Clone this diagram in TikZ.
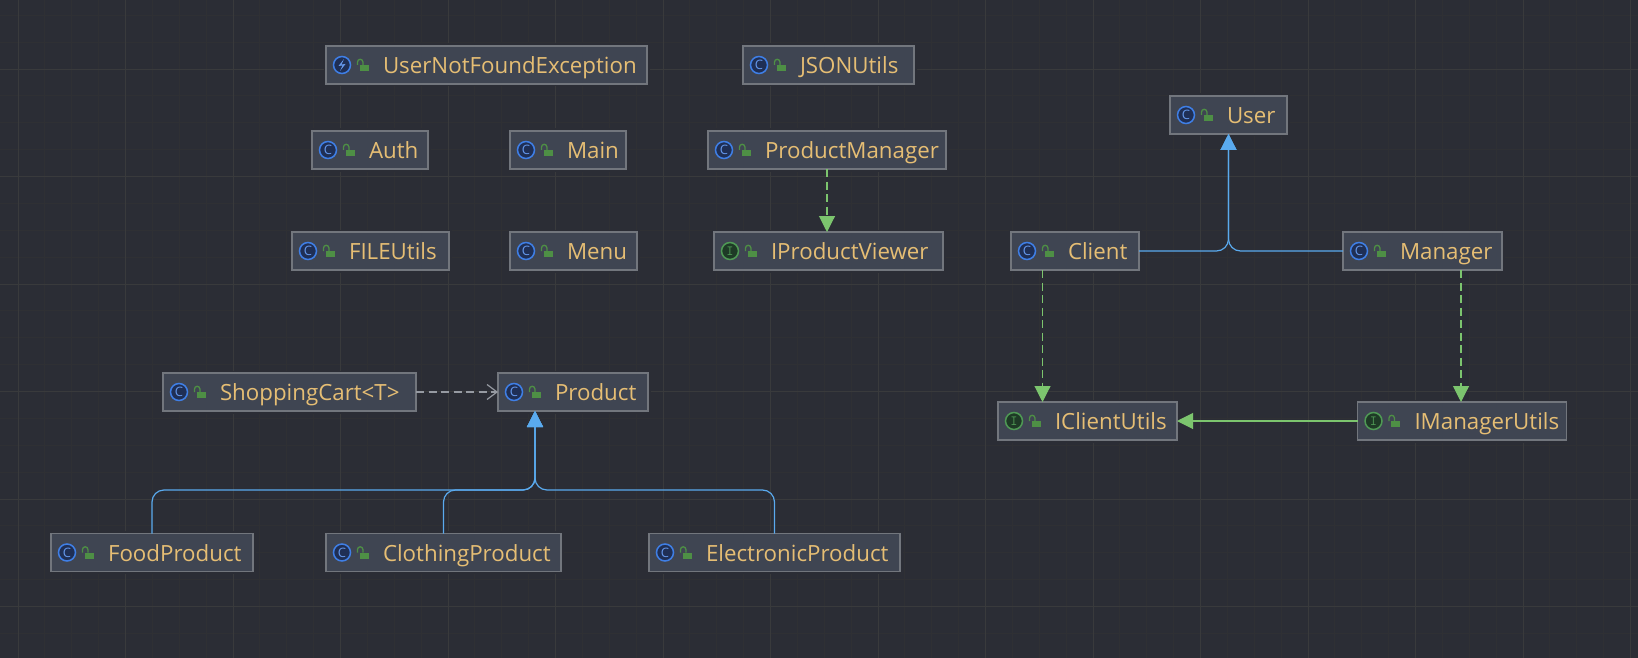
\documentclass[tikz,border=0pt]{standalone}
\usepackage{fontspec}
\setmainfont{Open Sans}
\usetikzlibrary{arrows.meta}

\definecolor{canvasbg}{HTML}{2B2D35}
\definecolor{gridminor}{HTML}{2F3034}
\definecolor{gridmajor}{HTML}{393A3C}
\definecolor{boxfill}{HTML}{3F4552}
\definecolor{boxline}{HTML}{72767D}
\definecolor{labeltext}{HTML}{E6BE74}
\definecolor{extendblue}{HTML}{5AAAEE}
\definecolor{implgreen}{HTML}{7CC56E}
\definecolor{usegrey}{HTML}{969AA2}
\definecolor{iconblue}{HTML}{3F7FE6}
\definecolor{iconbluefill}{HTML}{1F2F55}
\definecolor{icongreen}{HTML}{4F9A55}
\definecolor{icongreenfill}{HTML}{1E3A26}
\definecolor{lockgreen}{HTML}{4E8F45}

\tikzset{
  umlbox/.style={rectangle, draw=boxline, fill=boxfill, line width=1.3pt, inner sep=0pt, outer sep=0pt,
    minimum height=38pt, text height=19pt, text depth=2pt, align=left, text=labeltext,
    font=\fontsize{22.3}{22.3}\selectfont,
    preaction={draw=canvasbg, line width=5pt}},
  classicon/.style={circle, draw=iconblue, fill=iconbluefill, line width=1.5pt, minimum size=17pt, inner sep=0pt,
    text=iconblue!80!white, font=\fontsize{13}{13}\selectfont},
  ifaceicon/.style={circle, draw=icongreen, fill=icongreenfill, line width=1.5pt, minimum size=17pt, inner sep=0pt,
    text=icongreen, font=\fontsize{14}{14}\selectfont\ttfamily},
  lockicon/.pic={
    \fill[lockgreen] (-4.5,0) rectangle (4.5,6);
    \draw[lockgreen, line width=1.3pt] (-6.5,0) -- (-6.5,-3) arc[start angle=180, end angle=360, radius=2.7] -- (-1.1,0);
  },
  extends/.style={draw=extendblue, line width=1.2pt, rounded corners=12pt, -{Triangle[length=16pt,width=16pt]}},
  realizes/.style={draw=implgreen, line width=1.1pt, -{Triangle[length=16pt,width=16pt]}},
  uses/.style={draw=usegrey, line width=1.2pt, dash pattern=on 8pt off 4.5pt, -{Straight Barb[length=10pt,width=15pt]}}
}

\begin{document}
\begin{tikzpicture}[x=1pt, y=-1pt]
\useasboundingbox (0,0) rectangle (1638,658);
\fill[canvasbg] (0,0) rectangle (1638,658);

% grid
\foreach \k in {0,...,60} {
  \draw[gridminor, line width=0.8pt] ({18+26.875*\k-26.875},0) -- ({18+26.875*\k-26.875},658);
}
\foreach \k in {0,...,24} {
  \draw[gridminor, line width=0.8pt] (0,{69+26.875*\k-53.75}) -- (1638,{69+26.875*\k-53.75});
}
\foreach \k in {0,...,15} {
  \draw[gridmajor, line width=0.8pt] ({18+107.5*\k},0) -- ({18+107.5*\k},658);
}
\foreach \k in {0,...,5} {
  \draw[gridmajor, line width=0.8pt] (0,{69+107.5*\k}) -- (1638,{69+107.5*\k});
}

% boxes
\begin{scope}[every node/.style={umlbox}]
  \node[text width=321pt] (UserNotFound) at (486.5,65) {\hspace*{57pt}UserNotFoundException};
  \node[text width=171pt] (JSONUtils) at (828.5,65) {\hspace*{57pt}JSONUtils};
  \node[text width=116pt] (Auth) at (370,150) {\hspace*{57pt}Auth};
  \node[text width=116pt] (Main) at (568,150) {\hspace*{57pt}Main};
  \node[text width=238pt] (ProductManager) at (827,150) {\hspace*{57pt}ProductManager};
  \node[text width=117pt] (User) at (1228.5,115) {\hspace*{57pt}User};
  \node[text width=157pt] (FILEUtils) at (370.5,251) {\hspace*{57pt}FILEUtils};
  \node[text width=127pt] (Menu) at (573.5,251) {\hspace*{57pt}Menu};
  \node[text width=229pt] (IProductViewer) at (828.5,251) {\hspace*{57pt}IProductViewer};
  \node[text width=128pt] (Client) at (1075,251) {\hspace*{57pt}Client};
  \node[text width=159pt] (Manager) at (1422.5,251) {\hspace*{57pt}Manager};
  \node[text width=253pt] (ShoppingCart) at (289.5,392) {\hspace*{57pt}ShoppingCart<T>};
  \node[text width=150pt] (Product) at (573,392) {\hspace*{57pt}Product};
  \node[text width=179pt] (IClientUtils) at (1087.5,421) {\hspace*{57pt}IClientUtils};
  \node[text width=209pt] (IManagerUtils) at (1462,421) {\hspace*{57pt}IManagerUtils};
  \node[text width=202pt] (FoodProduct) at (152,552.5) {\hspace*{57pt}FoodProduct};
  \node[text width=235pt] (ClothingProduct) at (443.5,552.5) {\hspace*{57pt}ClothingProduct};
  \node[text width=251pt] (ElectronicProduct) at (774.5,552.5) {\hspace*{57pt}ElectronicProduct};
\end{scope}

% icons
\foreach \n in {JSONUtils,Auth,Main,ProductManager,User,FILEUtils,Menu,Client,Manager,ShoppingCart,Product,FoodProduct,ClothingProduct,ElectronicProduct} {
  \node[classicon] (\n-icon) at ([xshift=16pt]\n.west) {C};
}
\foreach \n in {IProductViewer,IClientUtils,IManagerUtils} {
  \node[ifaceicon] (\n-icon) at ([xshift=16pt]\n.west) {I};
}
\node[classicon] (UserNotFound-icon) at ([xshift=16pt]UserNotFound.west) {};
\fill[iconblue!80!white] ([xshift=2pt,yshift=6pt]UserNotFound-icon.center) -- ([xshift=-3.5pt,yshift=-1pt]UserNotFound-icon.center) -- ([xshift=0.5pt,yshift=-0.5pt]UserNotFound-icon.center) -- ([xshift=-2pt,yshift=-6pt]UserNotFound-icon.center) -- ([xshift=3.5pt,yshift=1pt]UserNotFound-icon.center) -- ([xshift=-0.5pt,yshift=0.5pt]UserNotFound-icon.center) -- cycle;
\foreach \n in {UserNotFound,JSONUtils,Auth,Main,ProductManager,User,FILEUtils,Menu,Client,Manager,ShoppingCart,Product,FoodProduct,ClothingProduct,ElectronicProduct,IProductViewer,IClientUtils,IManagerUtils} {
  \pic at ([xshift=38pt]\n.west) {lockicon};
}

% connectors
\coordinate (ProductIn) at ([xshift=-38pt]Product.south);
\coordinate (ProductBus) at (535,490);
\coordinate (ClientOut) at ([xshift=-32.5pt]Client.south);
\coordinate (ManagerOut) at ([xshift=38.5pt]Manager.south);

\draw[extends] (FoodProduct.north) |- (ProductBus) -- (ProductIn);
\draw[extends] (ClothingProduct.north) |- (ProductBus) -- (ProductIn);
\draw[extends] (ElectronicProduct.north) |- (ProductBus) -- (ProductIn);
\draw[extends] (Client.east) -| (User.south);
\draw[extends] (Manager.west) -| (User.south);
\draw[uses] (ShoppingCart.east) -- (Product.west);
\draw[realizes, dash pattern=on 8pt off 4.5pt] (ProductManager.south) -- (ProductManager.south |- IProductViewer.north);
\draw[realizes, dash pattern=on 8pt off 4.5pt] (ClientOut) -- (ClientOut |- IClientUtils.north);
\draw[realizes, dash pattern=on 8pt off 4.5pt] (ManagerOut) -- (ManagerOut |- IManagerUtils.north);
\draw[realizes] (IManagerUtils.west) -- (IClientUtils.east);
\end{tikzpicture}
\end{document}
